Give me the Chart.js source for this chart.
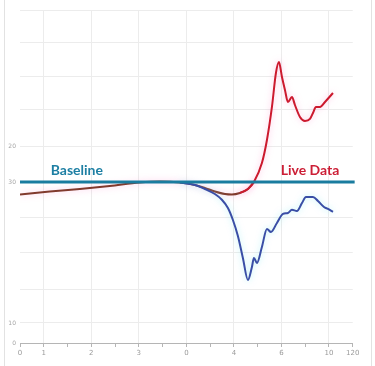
<!DOCTYPE html>
<html>
<head>
<meta charset="utf-8">
<script src="https://cdn.jsdelivr.net/npm/chart.js@4.4.1/dist/chart.umd.min.js"></script>
<style>
  html, body { margin: 0; padding: 0; background: #fff; }
  #wrap { position: absolute; left: 0; top: 0; width: 375px; height: 366px; }
  #frame { position: absolute; left: 4px; top: 0; width: 366px; height: 366px;
           border-left: 1px solid #e2e2e2; border-right: 1px solid #e2e2e2; pointer-events: none; }
  canvas { position: absolute; left: 0; top: 0; }
</style>
</head>
<body>
<div id="wrap">
  <canvas id="grafica" width="375" height="366"></canvas>
  <div id="frame"></div>
</div>
<script>
// eje x: posiciones de los ticks y sus etiquetas
const xTicks = [-0.5, 0, 0.5, 1, 1.5, 2, 2.5, 3, 3.5, 4, 4.5, 5, 5.5, 6, 6.5];
const xLabels = ['0', '1', '', '2', '', '3', '', '0', '', '4', '', '6', '', '10', '120'];

// eje y
const yTicks = [0, 6, 16.2, 27.3, 37.8, 48.35, 58.9, 70, 79.9, 90.1, 100];
const yLabels = ['0', '10', '', '', '', '30', '20', '', '', '', ''];

// tramo comun (marron)
const comunX = [-0.5, 0.126, 0.758, 1.389, 2.021, 2.442, 2.863, 3.179, 3.389, 3.6, 3.811, 3.958, 4.126, 4.295, 4.421];
const comunY = [44.59, 45.5, 46.25, 47.15, 48.2, 48.5, 48.2, 47.45, 46.55, 45.5, 44.74, 44.59, 45.05, 46.25, 48.35];

// datos en vivo (rojo)
const vivoX = [4.126, 4.295, 4.421, 4.589, 4.695, 4.8, 4.884, 4.947, 5.011, 5.074, 5.137, 5.221, 5.284, 5.389, 5.495, 5.6, 5.663, 5.726, 5.811, 5.916, 6.084];
const vivoY = [45.05, 46.25, 48.35, 54.05, 60.96, 70.87, 81.08, 84.38, 79.88, 75.98, 72.37, 73.87, 71.47, 67.87, 66.67, 67.27, 69.07, 70.87, 70.87, 72.37, 75.08];

// serie azul
const azulX = [2.863, 3.179, 3.389, 3.6, 3.747, 3.874, 3.979, 4.084, 4.189, 4.295, 4.379, 4.421, 4.484, 4.589, 4.695, 4.779, 4.905, 5.032, 5.137, 5.221, 5.326, 5.432, 5.516, 5.663, 5.768, 5.895, 5.979, 6.084];
const azulY = [48.2, 47.45, 46.25, 44.74, 43.0, 40.54, 36.94, 32.13, 25.53, 18.92, 22.82, 25.53, 24.02, 28.83, 34.23, 33.33, 36.04, 38.74, 39.04, 40.0, 39.64, 42.04, 43.84, 43.84, 42.64, 40.84, 40.24, 39.34];

// linea base
const baseX = [-0.5, 6.54];
const baseY = [48.35, 48.35];

// etiquetas de texto
const textos = [
    { texto: 'Baseline', x: 0.695, y: 51.95, color: '#1d7fa3' },
    { texto: 'Live Data', x: 5.6, y: 51.95, color: '#cc1f36' }
];

const puntos = (xs, ys) => xs.map((x, i) => ({ x: x, y: ys[i] }));

// busca la etiqueta del tick por su valor
const etiqueta = (valores, textosTick, v) => {
    const i = valores.findIndex(t => Math.abs(t - v) < 1e-6);
    return i >= 0 ? textosTick[i] : '';
};

// sombra suave detras de las lineas
const sombra = {
    id: 'sombra',
    beforeDatasetDraw(chart, args) {
        const ds = chart.data.datasets[args.index];
        chart.ctx.save();
        if (ds.glow) {
            chart.ctx.shadowColor = ds.glow;
            chart.ctx.shadowBlur = 6;
        }
    },
    afterDatasetDraw(chart) {
        chart.ctx.restore();
    }
};

// dibuja los textos Baseline / Live Data
const rotulos = {
    id: 'rotulos',
    afterDatasetsDraw(chart) {
        const ctx = chart.ctx;
        ctx.save();
        ctx.font = 'bold 14px Lato';
        ctx.textAlign = 'center';
        ctx.textBaseline = 'middle';
        textos.forEach(t => {
            ctx.fillStyle = t.color;
            ctx.fillText(t.texto, chart.scales.x.getPixelForValue(t.x), chart.scales.y.getPixelForValue(t.y));
        });
        ctx.restore();
    }
};

const linea = (datos, color, ancho, glow) => ({
    data: datos,
    borderColor: color,
    borderWidth: ancho,
    pointRadius: 0,
    fill: false,
    cubicInterpolationMode: 'monotone',
    glow: glow
});

const ctx = document.getElementById('grafica').getContext('2d');

new Chart(ctx, {
    type: 'line',
    data: {
        datasets: [
            Object.assign(linea(puntos(baseX, baseY), '#1a7c9f', 2.8, null), { clip: false }),
            linea(puntos(azulX, azulY), '#3a4ea6', 2, 'rgba(120,230,240,0.55)'),
            linea(puntos(vivoX, vivoY), '#cc1a2e', 2, 'rgba(255,140,200,0.55)'),
            linea(puntos(comunX, comunY), '#813a2d', 2, 'rgba(255,140,210,0.5)')
        ]
    },
    options: {
        responsive: false,
        animation: false,
        layout: { padding: { left: 0, right: 22.25, top: 10, bottom: 0 } },
        plugins: {
            legend: { display: false },
            tooltip: { enabled: false }
        },
        scales: {
            x: {
                type: 'linear',
                min: -0.5,
                max: 6.5,
                afterBuildTicks: scale => { scale.ticks = xTicks.map(v => ({ value: v })); },
                afterFit: scale => { scale.height = 23; },
                ticks: {
                    autoSkip: false,
                    maxRotation: 0,
                    padding: 2,
                    color: '#9a9a9a',
                    font: { size: 7, family: 'DejaVu Sans' },
                    callback: v => etiqueta(xTicks, xLabels, v)
                },
                grid: {
                    color: c => (c.tick && Number.isInteger(c.tick.value) ? '#ececec' : 'transparent'),
                    tickColor: '#b5b5b5',
                    tickLength: 4
                },
                border: { display: true, color: '#b5b5b5', width: 1 }
            },
            y: {
                type: 'linear',
                min: -0.01,
                max: 100,
                afterBuildTicks: scale => { scale.ticks = yTicks.map(v => ({ value: v })); },
                afterFit: scale => { scale.width = 20; },
                ticks: {
                    autoSkip: false,
                    padding: 4,
                    color: '#a5a5a5',
                    font: { size: 6, family: 'DejaVu Sans' },
                    callback: v => etiqueta(yTicks, yLabels, v)
                },
                grid: {
                    color: c => (c.tick && c.tick.value === 0 ? 'transparent' : '#ececec'),
                    drawTicks: false
                },
                border: { display: false }
            }
        }
    },
    plugins: [sombra, rotulos]
});
</script>
</body>
</html>
